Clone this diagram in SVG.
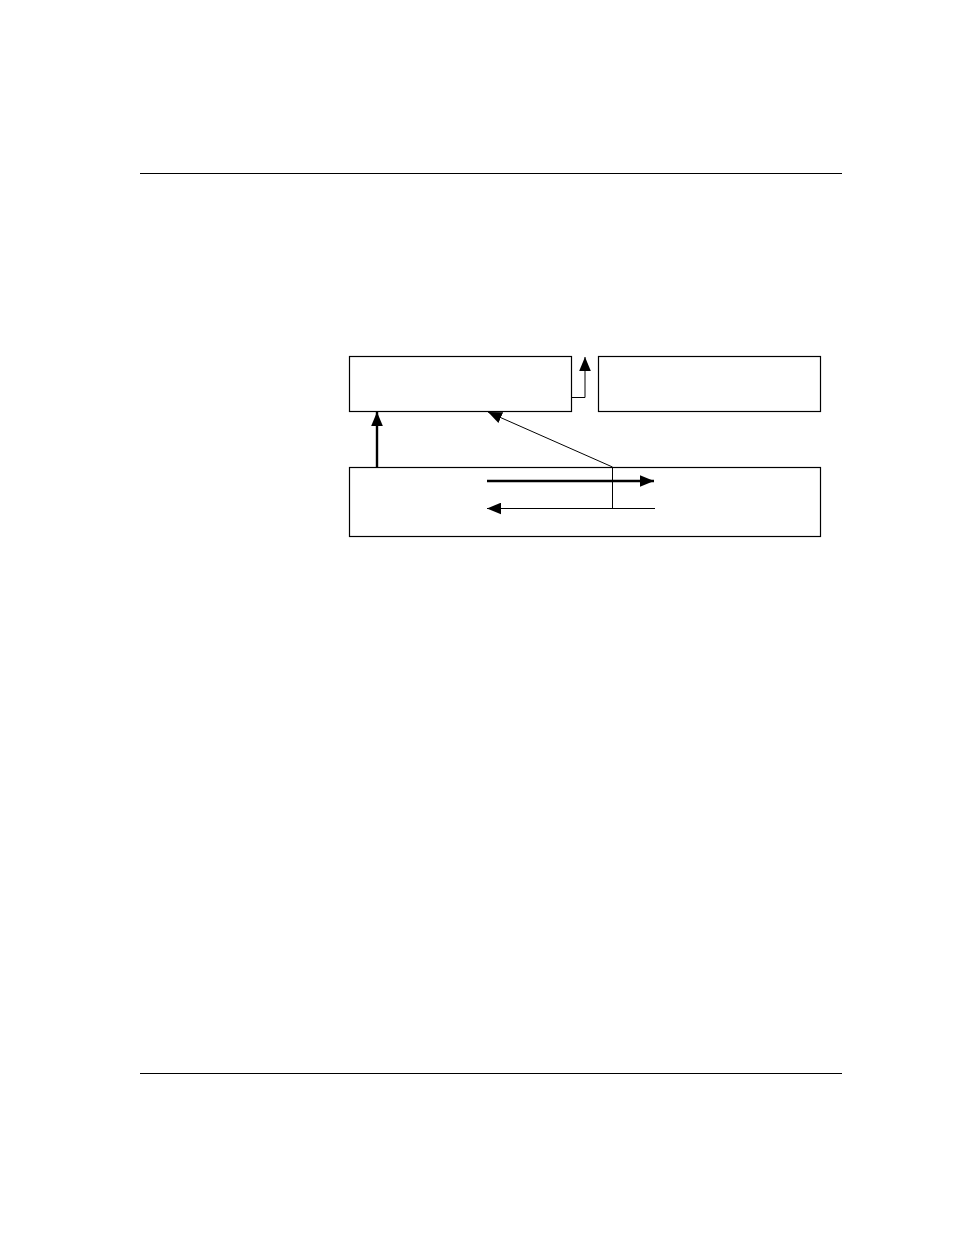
<svg xmlns="http://www.w3.org/2000/svg" width="954" height="1235" viewBox="0 0 954 1235">
<style>
.box{fill:#fff;stroke:#000;stroke-width:1.2}
.rule{stroke:#000;stroke-width:1.2}
.thin{stroke:#000;stroke-width:1;fill:none}
.thick{stroke:#000;stroke-width:2.4;fill:none}
</style>
<defs>
<marker id="ah" markerUnits="userSpaceOnUse" markerWidth="14" markerHeight="12" refX="12" refY="5" orient="auto" viewBox="0 0 12 10">
<path d="M0,0 L12,5 L0,10 Z" fill="#000"/>
</marker>
</defs>
<rect width="954" height="1235" fill="#fff"/>
<line class="rule" x1="140" y1="173.5" x2="842" y2="173.5"/>
<line class="rule" x1="140" y1="1073.5" x2="842" y2="1073.5"/>
<g id="box1"><rect class="box" x="349.5" y="356.5" width="222" height="55"/></g>
<g id="box2"><rect class="box" x="598.5" y="356.5" width="222" height="55"/></g>
<g id="box3"><rect class="box" x="349.5" y="467.5" width="471" height="69"/></g>
<g id="connectors">
<line class="thick" x1="377" y1="467" x2="377" y2="412" marker-end="url(#ah)"/>
<polyline class="thin" points="571,397.5 585,397.5 585,357" marker-end="url(#ah)"/>
<line class="thin" x1="612.5" y1="467" x2="488" y2="412" marker-end="url(#ah)"/>
<line class="thin" x1="612.5" y1="467" x2="612.5" y2="508.5"/>
<line class="thick" x1="487" y1="481" x2="654" y2="481" marker-end="url(#ah)"/>
<line class="thin" x1="655" y1="508.5" x2="487" y2="508.5" marker-end="url(#ah)"/>
</g>
</svg>
